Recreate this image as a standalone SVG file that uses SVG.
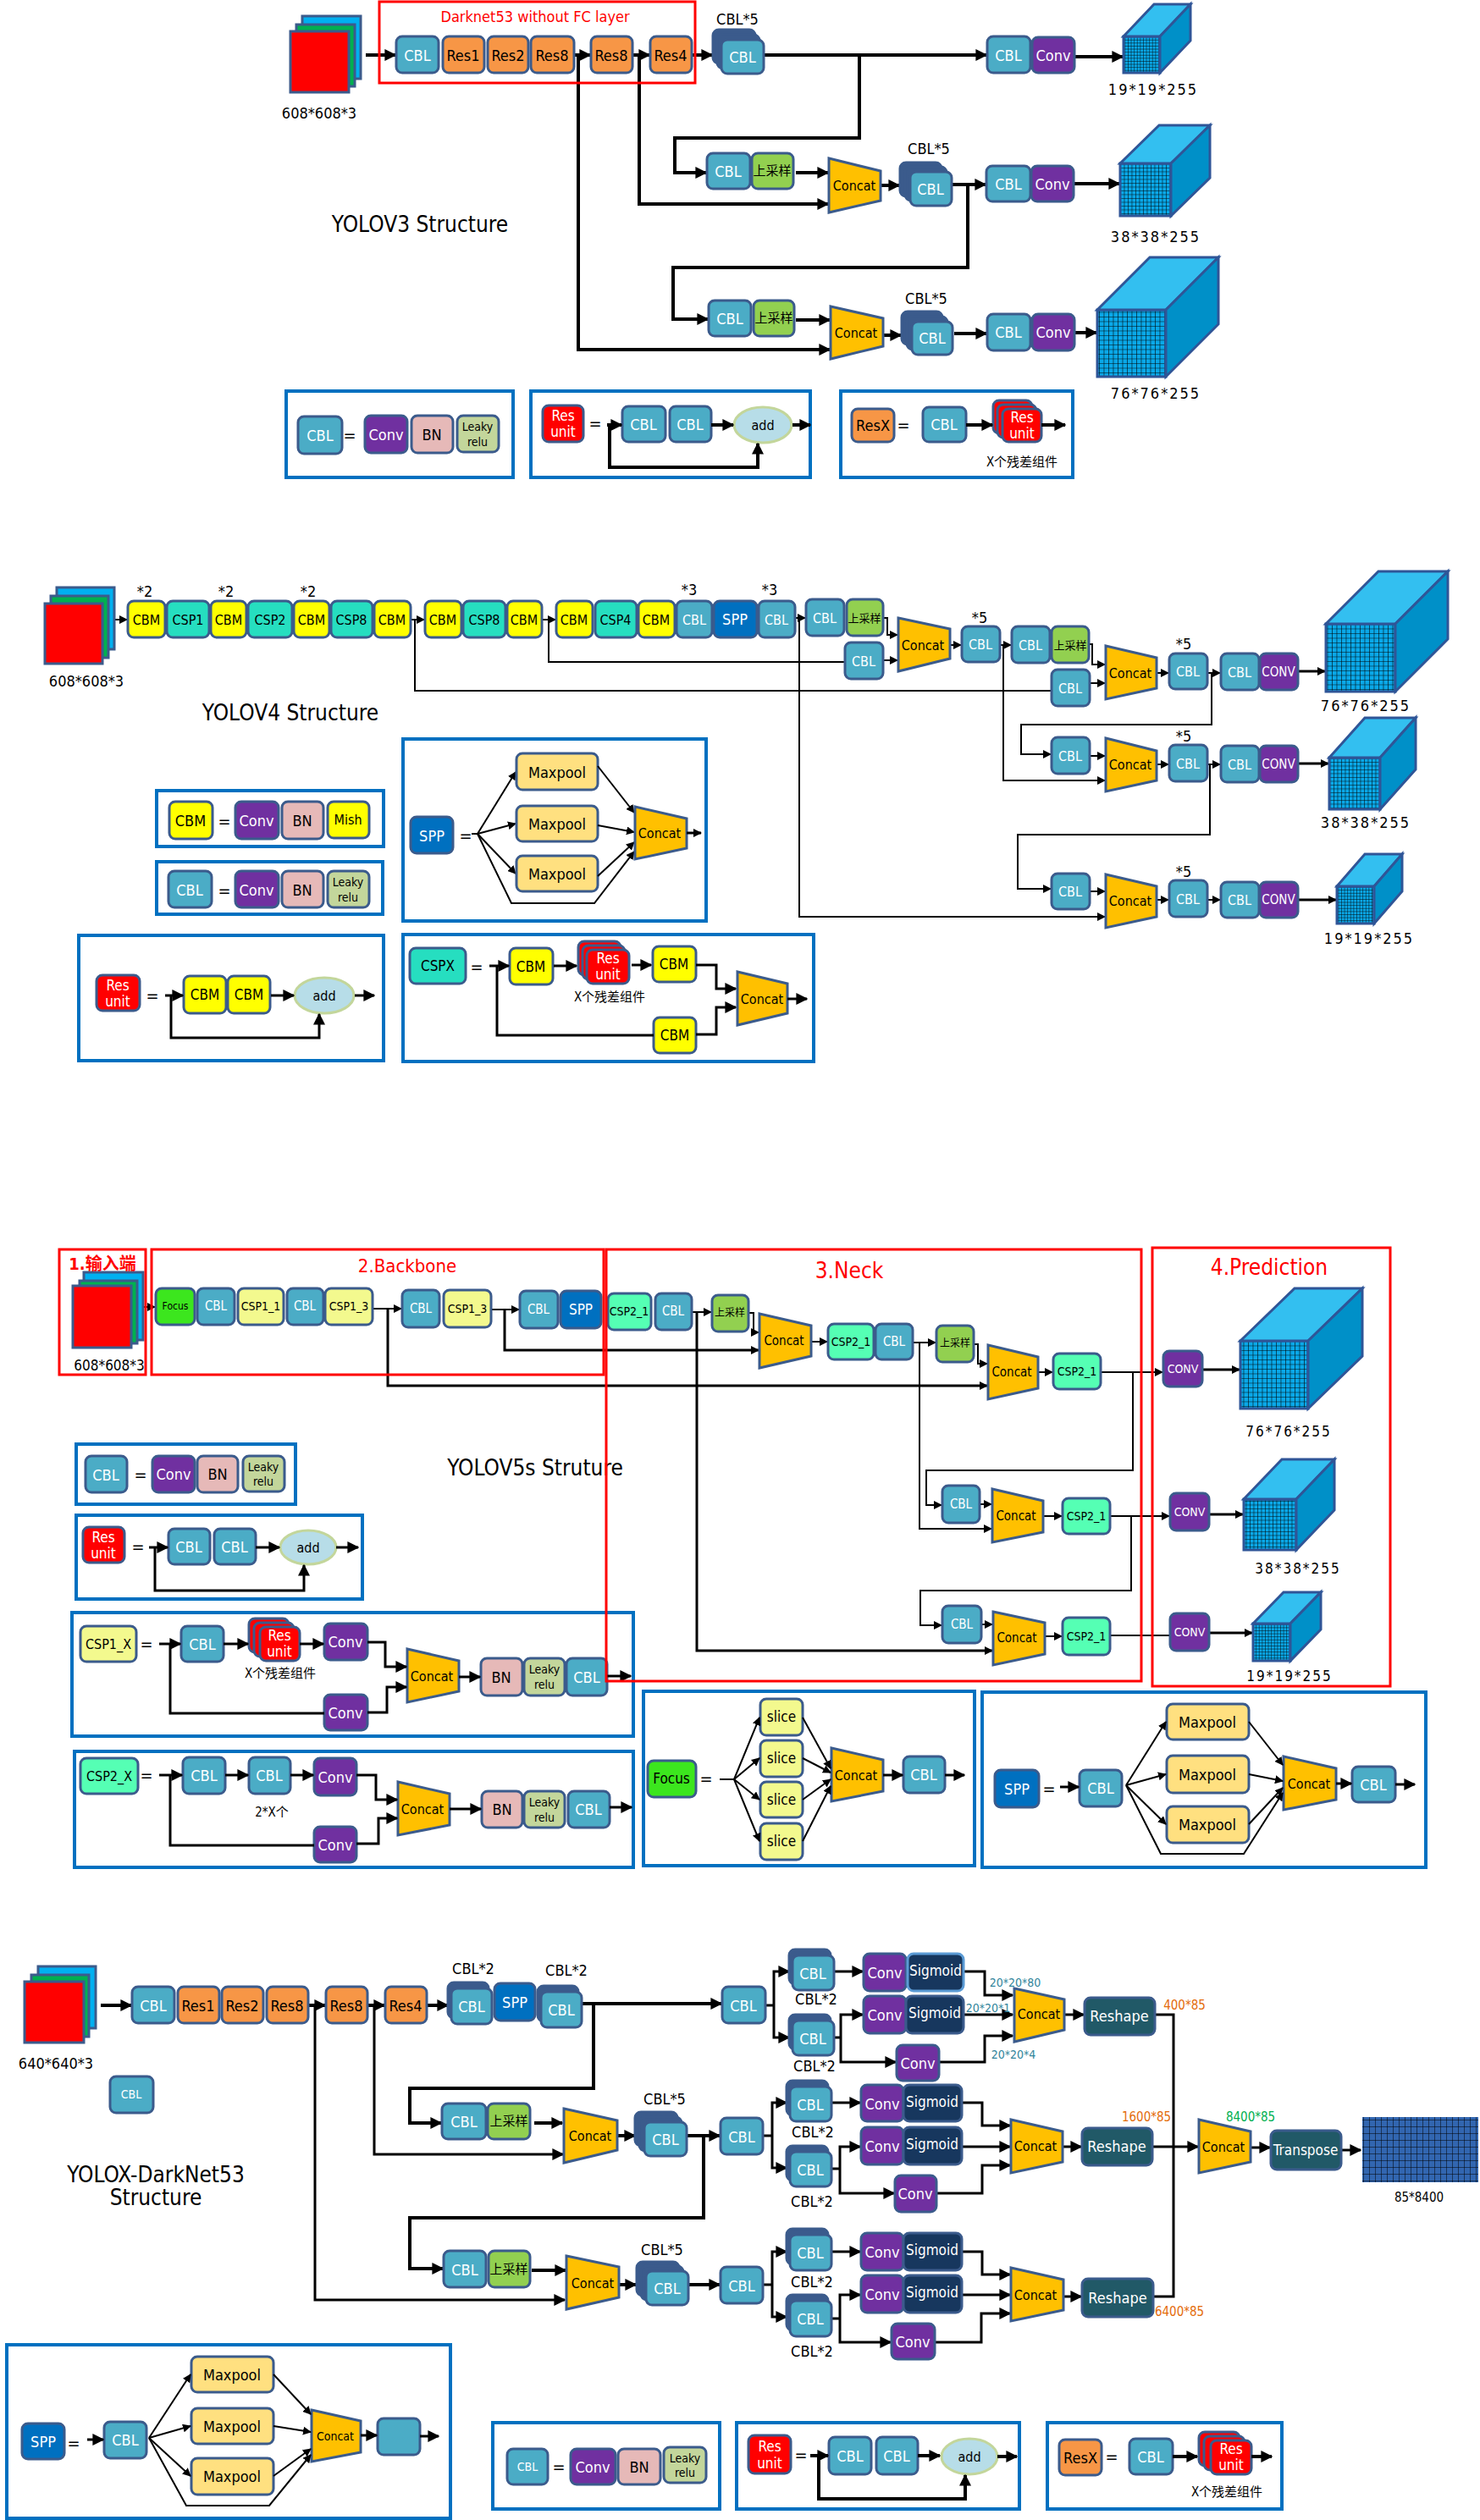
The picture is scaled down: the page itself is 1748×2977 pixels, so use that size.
<svg xmlns="http://www.w3.org/2000/svg" width="1748" height="2977" viewBox="0 0 1748 2977">
<defs>
<style>
text{font-family:"Liberation Sans Narrow","DejaVu Sans Condensed","Liberation Sans","Noto Sans CJK SC",sans-serif;text-anchor:middle;dominant-baseline:central;fill:#000}
.b{stroke:#3B5B8C;stroke-width:3;rx:7px;ry:7px}
.cbl{fill:#4BACC6}.res{fill:#F79646}.conv{fill:#7030A0}.bn{fill:#E6B9B8}.lr{fill:#C3D69B}.cbm{fill:#FFFF00}.csp{fill:#26DEC0}.c2{fill:#55FFB4}.c1{fill:#F3F98E}.spp{fill:#0070C0}.up{fill:#92D050}.mp{fill:#FFE080}.foc{fill:#3CE61E}.ru{fill:#FF0000}.sig{fill:#17375E}.rs{fill:#215967}.stk{fill:#3B5B8C}
.cc{fill:#FFC000;stroke:#3B5B8C;stroke-width:3}
.add{fill:#B7DDE8;stroke:#C3D69B;stroke-width:3}
.sq{stroke:#3B5B8C;stroke-width:3}
.w{fill:#fff}
.L{fill:none;stroke:#000;stroke-width:4}
.M{fill:none;stroke:#000;stroke-width:3}
.S{fill:none;stroke:#000;stroke-width:2}
.A{marker-end:url(#a)}
.a2{marker-end:url(#m)}
.lg{fill:#fff;stroke:#0070C0;stroke-width:4}
.rb{fill:none;stroke:#FF0000;stroke-width:3}
.cube rect,.cube polygon{stroke:#2F5597;stroke-width:3}
.cube text{letter-spacing:2px}
.top{fill:#33BFF0}.side{fill:#0090C8}
.s11{font-size:12px}.s12{font-size:14px}.s13{font-size:15px}.s14{font-size:16px}.s15{font-size:17px}.s16{font-size:18px}.s18{font-size:20px}.s20{font-size:22px}.s22{font-size:26px}
.cj15{font-size:15px}.cj13{font-size:13px}.cj12{font-size:12px}
.red{fill:#FF0000}.org{fill:#E46C0A}.grn{fill:#00B050}.tl{fill:#31849B}
</style>
<marker id="a" viewBox="0 0 10 10" refX="9" refY="5" markerWidth="14" markerHeight="14" markerUnits="userSpaceOnUse" orient="auto"><path d="M0,0L10,5L0,10z"/></marker>
<marker id="m" viewBox="0 0 10 10" refX="9" refY="5" markerWidth="10" markerHeight="10" markerUnits="userSpaceOnUse" orient="auto"><path d="M0,0L10,5L0,10z"/></marker>
<pattern id="g3" width="3.6" height="3.6" patternUnits="userSpaceOnUse"><rect width="3.6" height="3.6" fill="#0AA8E8"/><path d="M0,0H3.6M0,0V3.6" stroke="#000" stroke-width="0.9"/></pattern>
<pattern id="g4" width="4.5" height="4.5" patternUnits="userSpaceOnUse"><rect width="4.5" height="4.5" fill="#0AA8E8"/><path d="M0,0H4.5M0,0V4.5" stroke="#000" stroke-width="1"/></pattern>
<pattern id="g6" width="5.5" height="5.5" patternUnits="userSpaceOnUse"><rect width="5.5" height="5.5" fill="#0AA8E8"/><path d="M0,0H5.5M0,0V5.5" stroke="#000" stroke-width="1.1"/></pattern>
<pattern id="gx" width="7" height="8" patternUnits="userSpaceOnUse"><rect width="7" height="8" fill="#3266B0"/><path d="M0,0H7M0,0V8" stroke="#000" stroke-width="1"/></pattern>
</defs>
<rect width="1748" height="2977" fill="#fff"/>

<!-- ===================== YOLOv3 ===================== -->
<g id="connectors-v3">
<path class="L A" d="M432,65H467"/>
<path class="L A" d="M678,65H697"/>
<path class="L A" d="M747,65H767"/>
<path class="L A" d="M817,65H841"/>
<path class="L A" d="M903,65H1165"/>
<path class="L A" d="M1015,65V163H797V204H834"/>
<path class="L A" d="M755,65V241H978"/>
<path class="L A" d="M940,204H978"/>
<path class="L A" d="M1040,219H1062"/>
<path class="L A" d="M1124,218H1164"/>
<path class="L A" d="M1143,218V316H795V377H836"/>
<path class="L A" d="M683,65V413H980"/>
<path class="L A" d="M940,378H980"/>
<path class="L A" d="M1043,396H1064"/>
<path class="L A" d="M1127,394H1165"/>
<path class="L A" d="M1269,67H1326"/>
<path class="L A" d="M1268,217H1322"/>
<path class="L A" d="M1269,393H1295"/>
</g>
<g id="v3-input">
<rect class="sq" x="357" y="19" width="69" height="74" fill="#00B0F0"/>
<rect class="sq" x="350" y="29" width="69" height="73" fill="#00B050"/>
<rect class="sq" x="343" y="37" width="69" height="72" fill="#FF0000"/>
<text class="s16" x="377" y="133">608*608*3</text>
</g>
<g id="v3-darknet-frame"><rect class="rb" x="448" y="2" width="373" height="96"/><text class="s16 red" x="632" y="19">Darknet53 without FC layer</text></g>
<g id="v3-cbl0"><rect class="b cbl" x="468" y="43" width="50" height="43"/><text class="w s16" x="493" y="65">CBL</text></g>
<g id="v3-res1"><rect class="b res" x="523" y="43" width="49" height="43"/><text class="s16" x="547" y="65">Res1</text></g>
<g id="v3-res2"><rect class="b res" x="576" y="43" width="48" height="43"/><text class="s16" x="600" y="65">Res2</text></g>
<g id="v3-res8a"><rect class="b res" x="627" y="43" width="51" height="43"/><text class="s16" x="652" y="65">Res8</text></g>
<g id="v3-res8b"><rect class="b res" x="698" y="43" width="49" height="43"/><text class="s16" x="722" y="65">Res8</text></g>
<g id="v3-res4"><rect class="b res" x="768" y="43" width="49" height="43"/><text class="s16" x="792" y="65">Res4</text></g>
<g id="v3-cbl5-a"><rect class="b stk" x="842" y="35" width="50" height="40"/><rect class="b stk" x="847" y="41" width="50" height="40"/><rect class="b cbl" x="852" y="47" width="50" height="40"/><text class="w s16" x="877" y="67">CBL</text><text class="s16" x="871" y="22">CBL*5</text></g>
<g id="v3-cbl-h1"><rect class="b cbl" x="1166" y="43" width="51" height="43"/><text class="w s16" x="1191" y="65">CBL</text></g>
<g id="v3-conv-h1"><rect class="b conv" x="1219" y="44" width="50" height="42"/><text class="w s16" x="1244" y="65">Conv</text></g>
<g id="v3-out19" class="cube"><rect x="1327" y="43" width="43" height="43" fill="url(#g3)"/><polygon class="top" points="1327,43 1370,43 1406,5 1363,5"/><polygon class="side" points="1370,43 1406,5 1406,48 1370,86"/><text class="s16" x="1362" y="105">19*19*255</text></g>
<g id="v3-cbl-u1"><rect class="b cbl" x="835" y="181" width="51" height="42"/><text class="w s16" x="860" y="202">CBL</text></g>
<g id="v3-up1"><rect class="b up" x="888" y="181" width="49" height="42"/><text class="cj15" x="912" y="202">上采样</text></g>
<g id="v3-concat1"><polygon class="cc" points="979,187 1040,202 1040,237 979,251"/><text class="s14" x="1009" y="219">Concat</text></g>
<g id="v3-cbl5-b"><rect class="b stk" x="1063" y="192" width="49" height="40"/><rect class="b stk" x="1069" y="197" width="49" height="40"/><rect class="b cbl" x="1075" y="203" width="49" height="40"/><text class="w s16" x="1099" y="223">CBL</text><text class="s16" x="1097" y="175">CBL*5</text></g>
<g id="v3-cbl-h2"><rect class="b cbl" x="1165" y="196" width="52" height="42"/><text class="w s16" x="1191" y="217">CBL</text></g>
<g id="v3-conv-h2"><rect class="b conv" x="1218" y="196" width="50" height="42"/><text class="w s16" x="1243" y="217">Conv</text></g>
<g id="v3-out38" class="cube"><rect x="1323" y="193" width="60" height="62" fill="url(#g4)"/><polygon class="top" points="1323,193 1383,193 1429,148 1369,148"/><polygon class="side" points="1383,193 1429,148 1429,210 1383,255"/><text class="s16" x="1365" y="279">38*38*255</text></g>
<g id="v3-cbl-u2"><rect class="b cbl" x="837" y="355" width="50" height="42"/><text class="w s16" x="862" y="376">CBL</text></g>
<g id="v3-up2"><rect class="b up" x="890" y="355" width="48" height="42"/><text class="cj15" x="914" y="376">上采样</text></g>
<g id="v3-concat2"><polygon class="cc" points="981,362 1043,376 1043,409 981,424"/><text class="s14" x="1011" y="393">Concat</text></g>
<g id="v3-cbl5-c"><rect class="b stk" x="1065" y="368" width="48" height="39"/><rect class="b stk" x="1071" y="374" width="48" height="39"/><rect class="b cbl" x="1077" y="380" width="48" height="39"/><text class="w s16" x="1101" y="399">CBL</text><text class="s16" x="1094" y="352">CBL*5</text></g>
<g id="v3-cbl-h3"><rect class="b cbl" x="1166" y="371" width="51" height="43"/><text class="w s16" x="1191" y="392">CBL</text></g>
<g id="v3-conv-h3"><rect class="b conv" x="1219" y="371" width="50" height="43"/><text class="w s16" x="1244" y="392">Conv</text></g>
<g id="v3-out76" class="cube"><rect x="1296" y="366" width="81" height="79" fill="url(#g6)"/><polygon class="top" points="1296,366 1377,366 1439,304 1358,304"/><polygon class="side" points="1377,366 1439,304 1439,383 1377,445"/><text class="s16" x="1365" y="464">76*76*255</text></g>
<text class="s22" x="496" y="265">YOLOV3 Structure</text>

<g id="v3-legend-cbl"><rect class="lg" x="338" y="462" width="268" height="102"/>
<rect class="b cbl" x="352" y="492" width="52" height="44"/><text class="w s16" x="378" y="514">CBL</text><text class="s18" x="413" y="514">=</text>
<rect class="b conv" x="431" y="491" width="50" height="44"/><text class="w s16" x="456" y="513">Conv</text>
<rect class="b bn" x="486" y="491" width="49" height="44"/><text class="s16" x="510" y="513">BN</text>
<rect class="b lr" x="540" y="491" width="49" height="43"/><text class="s12" x="564" y="504">Leaky</text><text class="s12" x="564" y="522">relu</text></g>
<g id="v3-legend-res"><rect class="lg" x="627" y="462" width="330" height="102"/>
<rect class="b ru" x="641" y="479" width="48" height="43"/><text class="w s15" x="665" y="491">Res</text><text class="w s15" x="665" y="510">unit</text><text class="s18" x="703" y="500">=</text>
<rect class="b cbl" x="735" y="480" width="51" height="42"/><text class="w s16" x="760" y="501">CBL</text>
<rect class="b cbl" x="791" y="480" width="49" height="42"/><text class="w s16" x="815" y="501">CBL</text>
<ellipse class="add" cx="901" cy="502" rx="34" ry="21"/><text class="s14" x="901" y="502">add</text>
<path class="L A" d="M717,502H734"/><path class="L A" d="M840,502H866"/><path class="L A" d="M936,502H957"/><path class="L A" d="M720,502V552H895V524"/></g>
<g id="v3-legend-resx"><rect class="lg" x="993" y="462" width="274" height="102"/>
<rect class="b res" x="1006" y="483" width="50" height="39"/><text class="s16" x="1031" y="502">ResX</text><text class="s18" x="1067" y="502">=</text>
<rect class="b cbl" x="1090" y="481" width="51" height="41"/><text class="w s16" x="1115" y="501">CBL</text>
<rect class="b ru" x="1173" y="473" width="46" height="39"/><rect class="b ru" x="1178" y="478" width="46" height="39"/><rect class="b ru" x="1184" y="483" width="46" height="39"/><text class="w s15" x="1207" y="493">Res</text><text class="w s15" x="1207" y="512">unit</text>
<path class="L A" d="M1141,502H1172"/><path class="L A" d="M1230,502H1258"/>
<text class="s13" x="1207" y="546">X个残差组件</text></g>

<!-- ===================== YOLOv4 ===================== -->
<g id="connectors-v4">
<path class="S a2" d="M136,732H150"/>
<path class="S a2" d="M486,732H501"/>
<path class="S a2" d="M641,732H656"/>
<path class="S a2" d="M939,730H951"/>
<path class="S" d="M490,732V816H1242"/>
<path class="S" d="M648,732V782H998"/>
<path class="S a2" d="M944,730V1083H1305"/>
<path class="S a2" d="M1043,730H1048V750H1060"/>
<path class="S a2" d="M1043,780H1060"/>
<path class="S a2" d="M1122,762H1135"/>
<path class="S a2" d="M1181,762H1194"/>
<path class="S a2" d="M1185,762V922H1305"/>
<path class="S a2" d="M1286,761H1290V785H1305"/>
<path class="S a2" d="M1287,807H1305"/>
<path class="S a2" d="M1366,795H1380"/>
<path class="S a2" d="M1426,795H1441"/>
<path class="S a2" d="M1431,795V856H1206V891H1241"/>
<path class="M a2" d="M1533,793H1565"/>
<path class="S a2" d="M1287,893H1305"/>
<path class="S a2" d="M1366,903H1380"/>
<path class="S a2" d="M1426,903H1441"/>
<path class="S a2" d="M1429,903V986H1202V1050H1241"/>
<path class="M a2" d="M1533,902H1569"/>
<path class="S a2" d="M1287,1053H1305"/>
<path class="S a2" d="M1366,1063H1380"/>
<path class="S a2" d="M1426,1063H1441"/>
<path class="M a2" d="M1533,1063H1578"/>
</g>
<g id="v4-input">
<rect class="sq" x="67" y="694" width="68" height="73" fill="#00B0F0"/>
<rect class="sq" x="60" y="704" width="68" height="73" fill="#00B050"/>
<rect class="sq" x="53" y="713" width="68" height="71" fill="#FF0000"/>
<text class="s16" x="102" y="804">608*608*3</text>
</g>
<g id="v4-cbm1"><rect class="b cbm" x="151" y="710" width="44" height="43"/><text class="s14" x="173" y="732">CBM</text><text class="s16" x="171" y="698">*2</text></g>
<g id="v4-csp1"><rect class="b csp" x="197" y="710" width="50" height="43"/><text class="s14" x="222" y="732">CSP1</text></g>
<g id="v4-cbm2"><rect class="b cbm" x="249" y="710" width="42" height="43"/><text class="s14" x="270" y="732">CBM</text><text class="s16" x="267" y="698">*2</text></g>
<g id="v4-csp2"><rect class="b csp" x="293" y="710" width="52" height="43"/><text class="s14" x="319" y="732">CSP2</text></g>
<g id="v4-cbm3"><rect class="b cbm" x="347" y="710" width="42" height="43"/><text class="s14" x="368" y="732">CBM</text><text class="s16" x="364" y="698">*2</text></g>
<g id="v4-csp8a"><rect class="b csp" x="391" y="710" width="49" height="43"/><text class="s14" x="415" y="732">CSP8</text></g>
<g id="v4-cbm4"><rect class="b cbm" x="442" y="710" width="43" height="43"/><text class="s14" x="463" y="732">CBM</text></g>
<g id="v4-cbm5"><rect class="b cbm" x="502" y="710" width="43" height="43"/><text class="s14" x="523" y="732">CBM</text></g>
<g id="v4-csp8b"><rect class="b csp" x="547" y="710" width="50" height="43"/><text class="s14" x="572" y="732">CSP8</text></g>
<g id="v4-cbm6"><rect class="b cbm" x="599" y="710" width="41" height="43"/><text class="s14" x="619" y="732">CBM</text></g>
<g id="v4-cbm7"><rect class="b cbm" x="657" y="710" width="43" height="43"/><text class="s14" x="678" y="732">CBM</text></g>
<g id="v4-csp4"><rect class="b csp" x="703" y="710" width="49" height="43"/><text class="s14" x="727" y="732">CSP4</text></g>
<g id="v4-cbm8"><rect class="b cbm" x="754" y="710" width="43" height="43"/><text class="s14" x="775" y="732">CBM</text></g>
<g id="v4-cbl1"><rect class="b cbl" x="799" y="710" width="42" height="43"/><text class="w s14" x="820" y="732">CBL</text><text class="s16" x="814" y="696">*3</text></g>
<g id="v4-spp"><rect class="b spp" x="843" y="710" width="51" height="43"/><text class="w s16" x="868" y="731">SPP</text></g>
<g id="v4-cbl2"><rect class="b cbl" x="896" y="710" width="43" height="43"/><text class="w s14" x="917" y="732">CBL</text><text class="s16" x="909" y="696">*3</text></g>
<g id="v4-cbl3"><rect class="b cbl" x="952" y="708" width="45" height="43"/><text class="w s14" x="974" y="730">CBL</text></g>
<g id="v4-up1"><rect class="b up" x="1000" y="708" width="43" height="43"/><text class="cj13" x="1021" y="730">上采样</text></g>
<g id="v4-cbl4"><rect class="b cbl" x="998" y="759" width="45" height="43"/><text class="w s14" x="1020" y="781">CBL</text></g>
<g id="v4-concat1"><polygon class="cc" points="1061,730 1122,743 1122,778 1061,793"/><text class="s14" x="1090" y="762">Concat</text></g>
<g id="v4-cbl5-1"><rect class="b cbl" x="1136" y="740" width="45" height="42"/><text class="w s14" x="1158" y="761">CBL</text><text class="s16" x="1157" y="729">*5</text></g>
<g id="v4-cbl5"><rect class="b cbl" x="1195" y="740" width="45" height="43"/><text class="w s14" x="1217" y="762">CBL</text></g>
<g id="v4-up2"><rect class="b up" x="1242" y="740" width="44" height="43"/><text class="cj13" x="1264" y="762">上采样</text></g>
<g id="v4-cbl6"><rect class="b cbl" x="1242" y="791" width="45" height="43"/><text class="w s14" x="1264" y="813">CBL</text></g>
<g id="v4-concat2"><polygon class="cc" points="1306,763 1366,777 1366,813 1306,826"/><text class="s14" x="1335" y="795">Concat</text></g>
<g id="v4-cbl5-2"><rect class="b cbl" x="1381" y="772" width="45" height="42"/><text class="w s14" x="1403" y="793">CBL</text><text class="s16" x="1398" y="760">*5</text></g>
<g id="v4-head76"><rect class="b cbl" x="1442" y="772" width="45" height="43"/><text class="w s14" x="1464" y="794">CBL</text><rect class="b conv" x="1488" y="772" width="45" height="43"/><text class="w s13" x="1510" y="794">CONV</text></g>
<g id="v4-out76" class="cube"><rect x="1566" y="737" width="82" height="80" fill="url(#g6)"/><polygon class="top" points="1566,737 1648,737 1710,675 1628,675"/><polygon class="side" points="1648,737 1710,675 1710,755 1648,817"/><text class="s16" x="1613" y="833">76*76*255</text></g>
<g id="v4-cbl7"><rect class="b cbl" x="1242" y="871" width="45" height="43"/><text class="w s14" x="1264" y="893">CBL</text></g>
<g id="v4-concat3"><polygon class="cc" points="1306,872 1366,887 1366,922 1306,935"/><text class="s14" x="1335" y="903">Concat</text></g>
<g id="v4-cbl5-3"><rect class="b cbl" x="1381" y="880" width="45" height="43"/><text class="w s14" x="1403" y="902">CBL</text><text class="s16" x="1398" y="869">*5</text></g>
<g id="v4-head38"><rect class="b cbl" x="1442" y="881" width="45" height="43"/><text class="w s14" x="1464" y="903">CBL</text><rect class="b conv" x="1488" y="881" width="45" height="43"/><text class="w s13" x="1510" y="903">CONV</text></g>
<g id="v4-out38" class="cube"><rect x="1570" y="895" width="60" height="61" fill="url(#g4)"/><polygon class="top" points="1570,895 1630,895 1672,848 1612,848"/><polygon class="side" points="1630,895 1672,848 1672,909 1630,956"/><text class="s16" x="1613" y="971">38*38*255</text></g>
<g id="v4-cbl8"><rect class="b cbl" x="1242" y="1032" width="45" height="42"/><text class="w s14" x="1264" y="1053">CBL</text></g>
<g id="v4-concat4"><polygon class="cc" points="1306,1033 1366,1047 1366,1083 1306,1096"/><text class="s14" x="1335" y="1064">Concat</text></g>
<g id="v4-cbl5-4"><rect class="b cbl" x="1381" y="1040" width="45" height="43"/><text class="w s14" x="1403" y="1062">CBL</text><text class="s16" x="1398" y="1029">*5</text></g>
<g id="v4-head19"><rect class="b cbl" x="1442" y="1042" width="45" height="42"/><text class="w s14" x="1464" y="1063">CBL</text><rect class="b conv" x="1488" y="1042" width="45" height="42"/><text class="w s13" x="1510" y="1063">CONV</text></g>
<g id="v4-out19" class="cube"><rect x="1579" y="1047" width="44" height="44" fill="url(#g3)"/><polygon class="top" points="1579,1047 1623,1047 1656,1009 1612,1009"/><polygon class="side" points="1623,1047 1656,1009 1656,1053 1623,1091"/><text class="s16" x="1617" y="1108">19*19*255</text></g>
<text class="s22" x="343" y="842">YOLOV4 Structure</text>

<g id="v4-legend-cbm"><rect class="lg" x="185" y="934" width="268" height="66"/>
<rect class="b cbm" x="200" y="947" width="51" height="44"/><text class="s16" x="225" y="969">CBM</text><text class="s18" x="265" y="970">=</text>
<rect class="b conv" x="278" y="947" width="51" height="44"/><text class="w s16" x="303" y="969">Conv</text>
<rect class="b bn" x="333" y="947" width="49" height="44"/><text class="s16" x="357" y="969">BN</text>
<rect class="b cbm" x="387" y="947" width="49" height="43"/><text class="s14" x="411" y="968">Mish</text></g>
<g id="v4-legend-cbl"><rect class="lg" x="185" y="1018" width="267" height="62"/>
<rect class="b cbl" x="199" y="1029" width="51" height="43"/><text class="w s16" x="224" y="1051">CBL</text><text class="s18" x="265" y="1052">=</text>
<rect class="b conv" x="278" y="1029" width="51" height="43"/><text class="w s16" x="303" y="1051">Conv</text>
<rect class="b bn" x="333" y="1029" width="49" height="43"/><text class="s16" x="357" y="1051">BN</text>
<rect class="b lr" x="387" y="1029" width="49" height="43"/><text class="s12" x="411" y="1042">Leaky</text><text class="s12" x="411" y="1060">relu</text></g>
<g id="v4-legend-spp"><rect class="lg" x="476" y="873" width="358" height="215"/>
<rect class="b spp" x="485" y="965" width="50" height="43"/><text class="w s16" x="510" y="987">SPP</text><text class="s18" x="550" y="987">=</text>
<path class="S" d="M557,985H564"/>
<path class="S a2" d="M564,985L609,912"/><path class="S a2" d="M564,985L609,973"/><path class="S a2" d="M564,985L609,1032"/><path class="S a2" d="M564,985L604,1067H702L749,1006"/>
<rect class="b mp" x="610" y="890" width="96" height="43"/><text class="s16" x="658" y="912">Maxpool</text>
<rect class="b mp" x="610" y="952" width="96" height="42"/><text class="s16" x="658" y="973">Maxpool</text>
<rect class="b mp" x="610" y="1011" width="96" height="42"/><text class="s16" x="658" y="1032">Maxpool</text>
<path class="S a2" d="M706,905L749,960"/><path class="S a2" d="M706,975L749,983"/><path class="S a2" d="M706,1035L749,995"/>
<polygon class="cc" points="750,953 811,967 811,1002 750,1015"/><text class="s14" x="779" y="984">Concat</text>
<path class="M a2" d="M811,984H828"/></g>
<g id="v4-legend-res"><rect class="lg" x="93" y="1105" width="360" height="148"/>
<rect class="b ru" x="114" y="1152" width="51" height="42"/><text class="w s15" x="139" y="1164">Res</text><text class="w s15" x="139" y="1183">unit</text><text class="s18" x="180" y="1176">=</text>
<rect class="b cbm" x="217" y="1153" width="50" height="44"/><text class="s15" x="242" y="1175">CBM</text>
<rect class="b cbm" x="269" y="1153" width="50" height="44"/><text class="s15" x="294" y="1175">CBM</text>
<ellipse class="add" cx="383" cy="1176" rx="35" ry="21"/><text class="s14" x="383" y="1176">add</text>
<path class="M A" d="M195,1176H216"/><path class="M A" d="M320,1176H347"/><path class="M A" d="M419,1176H442"/><path class="M A" d="M202,1176V1226H377V1198"/></g>
<g id="v4-legend-cspx"><rect class="lg" x="476" y="1104" width="485" height="150"/>
<rect class="b csp" x="484" y="1120" width="66" height="42"/><text class="s15" x="517" y="1141">CSPX</text><text class="s18" x="563" y="1142">=</text>
<rect class="b cbm" x="602" y="1120" width="51" height="43"/><text class="s15" x="627" y="1142">CBM</text>
<rect class="b ru" x="683" y="1112" width="50" height="40"/><rect class="b ru" x="688" y="1117" width="50" height="40"/><rect class="b ru" x="693" y="1122" width="50" height="40"/><text class="w s15" x="718" y="1132">Res</text><text class="w s15" x="718" y="1151">unit</text>
<text class="s13" x="720" y="1178">X个残差组件</text>
<rect class="b cbm" x="771" y="1118" width="51" height="42"/><text class="s15" x="796" y="1139">CBM</text>
<rect class="b cbm" x="772" y="1202" width="50" height="42"/><text class="s15" x="797" y="1223">CBM</text>
<polygon class="cc" points="871,1148 930,1162 930,1197 871,1211"/><text class="s14" x="900" y="1180">Concat</text>
<path class="M A" d="M578,1141H601"/><path class="M A" d="M654,1141H681"/><path class="M A" d="M746,1140H769"/>
<path class="M A" d="M822,1140H846V1168H869"/><path class="M" d="M587,1141V1223H772"/><path class="M A" d="M822,1222H846V1190H869"/><path class="M A" d="M930,1180H953"/></g>

<!-- ===================== YOLOv5s ===================== -->
<g id="v5-legend-cbl"><rect class="lg" x="90" y="1706" width="259" height="71"/>
<rect class="b cbl" x="101" y="1720" width="49" height="43"/><text class="w s16" x="125" y="1742">CBL</text><text class="s18" x="166" y="1742">=</text>
<rect class="b conv" x="180" y="1720" width="50" height="43"/><text class="w s16" x="205" y="1741">Conv</text>
<rect class="b bn" x="233" y="1720" width="48" height="43"/><text class="s16" x="257" y="1741">BN</text>
<rect class="b lr" x="287" y="1720" width="49" height="42"/><text class="s12" x="311" y="1733">Leaky</text><text class="s12" x="311" y="1750">relu</text></g>
<g id="v5-legend-res"><rect class="lg" x="90" y="1790" width="338" height="99"/>
<rect class="b ru" x="98" y="1804" width="49" height="42"/><text class="w s15" x="122" y="1816">Res</text><text class="w s15" x="122" y="1835">unit</text><text class="s18" x="163" y="1827">=</text>
<rect class="b cbl" x="199" y="1806" width="49" height="42"/><text class="w s16" x="223" y="1827">CBL</text>
<rect class="b cbl" x="253" y="1806" width="49" height="42"/><text class="w s16" x="277" y="1827">CBL</text>
<ellipse class="add" cx="364" cy="1828" rx="33" ry="20"/><text class="s14" x="364" y="1828">add</text>
<path class="M A" d="M176,1828H198"/><path class="M A" d="M302,1828H330"/><path class="M A" d="M397,1828H423"/><path class="M A" d="M183,1828V1879H359V1849"/></g>
<g id="v5-legend-csp1"><rect class="lg" x="85" y="1905" width="663" height="146"/>
<rect class="b c1" x="95" y="1921" width="66" height="42"/><text class="s14" x="128" y="1942">CSP1_X</text><text class="s18" x="173" y="1942">=</text>
<rect class="b cbl" x="214" y="1921" width="50" height="42"/><text class="w s16" x="239" y="1942">CBL</text>
<rect class="b ru" x="294" y="1912" width="47" height="40"/><rect class="b ru" x="300" y="1917" width="47" height="40"/><rect class="b ru" x="307" y="1922" width="47" height="40"/><text class="w s15" x="330" y="1932">Res</text><text class="w s15" x="330" y="1951">unit</text>
<text class="s13" x="331" y="1977">X个残差组件</text>
<rect class="b conv" x="383" y="1918" width="51" height="43"/><text class="w s16" x="408" y="1939">Conv</text>
<rect class="b conv" x="383" y="2002" width="51" height="42"/><text class="w s16" x="408" y="2023">Conv</text>
<polygon class="cc" points="481,1948 542,1962 542,1998 481,2011"/><text class="s14" x="510" y="1980">Concat</text>
<rect class="b bn" x="568" y="1959" width="49" height="44"/><text class="s16" x="592" y="1981">BN</text>
<rect class="b lr" x="619" y="1959" width="48" height="44"/><text class="s12" x="643" y="1972">Leaky</text><text class="s12" x="643" y="1990">relu</text>
<rect class="b cbl" x="669" y="1959" width="48" height="44"/><text class="w s16" x="693" y="1981">CBL</text>
<path class="M A" d="M188,1942H213"/><path class="M A" d="M264,1942H293"/><path class="M A" d="M354,1942H382"/><path class="M A" d="M434,1940H455V1969H480"/><path class="M" d="M201,1942V2024H383"/><path class="M A" d="M434,2023H457V1993H480"/><path class="M A" d="M542,1981H567"/><path class="M A" d="M717,1980H745"/></g>
<g id="v5-legend-csp2"><rect class="lg" x="88" y="2069" width="660" height="137"/>
<rect class="b c2" x="95" y="2077" width="68" height="42"/><text class="s14" x="129" y="2098">CSP2_X</text><text class="s18" x="173" y="2097">=</text>
<rect class="b cbl" x="216" y="2076" width="50" height="43"/><text class="w s16" x="241" y="2097">CBL</text>
<rect class="b cbl" x="294" y="2076" width="49" height="43"/><text class="w s16" x="318" y="2097">CBL</text>
<rect class="b conv" x="371" y="2077" width="50" height="44"/><text class="w s16" x="396" y="2099">Conv</text>
<text class="s13" x="321" y="2141">2*X个</text>
<rect class="b conv" x="371" y="2158" width="50" height="42"/><text class="w s16" x="396" y="2179">Conv</text>
<polygon class="cc" points="470,2105 531,2119 531,2156 470,2168"/><text class="s14" x="499" y="2137">Concat</text>
<rect class="b bn" x="569" y="2116" width="48" height="43"/><text class="s16" x="593" y="2137">BN</text>
<rect class="b lr" x="619" y="2116" width="48" height="43"/><text class="s12" x="643" y="2129">Leaky</text><text class="s12" x="643" y="2147">relu</text>
<rect class="b cbl" x="671" y="2116" width="49" height="43"/><text class="w s16" x="695" y="2137">CBL</text>
<path class="M A" d="M188,2097H215"/><path class="M A" d="M266,2097H293"/><path class="M A" d="M343,2097H370"/><path class="M A" d="M421,2097H444V2126H469"/><path class="M" d="M201,2097V2180H371"/><path class="M A" d="M421,2178H447V2148H469"/><path class="M A" d="M531,2137H568"/><path class="M A" d="M720,2135H746"/></g>
<g id="v5-legend-focus"><rect class="lg" x="760" y="1998" width="391" height="206"/>
<rect class="b foc" x="765" y="2080" width="57" height="43"/><text class="s15" x="793" y="2101">Focus</text><text class="s18" x="834" y="2101">=</text>
<rect class="b c1" x="898" y="2007" width="50" height="43"/><text class="s15" x="923" y="2028">slice</text>
<rect class="b c1" x="898" y="2056" width="50" height="43"/><text class="s15" x="923" y="2077">slice</text>
<rect class="b c1" x="898" y="2105" width="50" height="42"/><text class="s15" x="923" y="2126">slice</text>
<rect class="b c1" x="898" y="2154" width="50" height="43"/><text class="s15" x="923" y="2175">slice</text>
<polygon class="cc" points="982,2065 1043,2079 1043,2116 982,2128"/><text class="s14" x="1011" y="2097">Concat</text>
<rect class="b cbl" x="1067" y="2075" width="49" height="43"/><text class="w s16" x="1091" y="2096">CBL</text>
<path class="S" d="M850,2102H867"/><path class="S a2" d="M867,2102L897,2029"/><path class="S a2" d="M867,2102L897,2077"/><path class="S a2" d="M867,2102L897,2126"/><path class="S a2" d="M867,2102L897,2175"/>
<path class="S a2" d="M948,2029L981,2089"/><path class="S a2" d="M948,2077L981,2094"/><path class="S a2" d="M948,2126L981,2102"/><path class="S a2" d="M948,2175L981,2110"/>
<path class="M A" d="M1043,2097H1066"/><path class="M A" d="M1116,2097H1139"/></g>
<g id="v5-legend-spp"><rect class="lg" x="1160" y="1999" width="524" height="207"/>
<rect class="b spp" x="1175" y="2091" width="52" height="44"/><text class="w s16" x="1201" y="2113">SPP</text><text class="s18" x="1239" y="2113">=</text>
<rect class="b cbl" x="1275" y="2091" width="50" height="43"/><text class="w s16" x="1300" y="2112">CBL</text>
<rect class="b mp" x="1378" y="2013" width="97" height="42"/><text class="s16" x="1426" y="2034">Maxpool</text>
<rect class="b mp" x="1378" y="2074" width="97" height="44"/><text class="s16" x="1426" y="2096">Maxpool</text>
<rect class="b mp" x="1378" y="2134" width="97" height="43"/><text class="s16" x="1426" y="2155">Maxpool</text>
<polygon class="cc" points="1516,2075 1578,2089 1578,2126 1516,2138"/><text class="s14" x="1546" y="2107">Concat</text>
<rect class="b cbl" x="1597" y="2087" width="51" height="42"/><text class="w s16" x="1622" y="2108">CBL</text>
<path class="M A" d="M1252,2111H1274"/>
<path class="S a2" d="M1330,2109L1377,2034"/><path class="S a2" d="M1330,2109L1377,2096"/><path class="S a2" d="M1330,2109L1377,2155"/><path class="S a2" d="M1330,2109L1371,2190H1469L1515,2118"/>
<path class="S a2" d="M1475,2034L1515,2085"/><path class="S a2" d="M1475,2096L1515,2104"/><path class="S a2" d="M1475,2155L1515,2112"/>
<path class="M A" d="M1578,2107H1596"/><path class="M A" d="M1648,2108H1671"/></g>

<g id="connectors-v5">
<path class="S a2" d="M169,1544H183"/>
<path class="S a2" d="M441,1546H474"/>
<path class="S a2" d="M581,1547H613"/>
<path class="S a2" d="M818,1550H840"/>
<path class="S a2" d="M884,1551H890V1574H896"/>
<path class="M a2" d="M596,1547V1595H896"/>
<path class="S a2" d="M958,1585H977"/>
<path class="S a2" d="M1079,1586H1105"/>
<path class="S a2" d="M1150,1588H1155V1611H1166"/>
<path class="M a2" d="M458,1546V1637H1166"/>
<path class="S a2" d="M1226,1621H1243"/>
<path class="S a2" d="M1300,1621H1373"/>
<path class="M a2" d="M1420,1618H1464"/>
<path class="S a2" d="M1338,1621V1737H1094V1778H1112"/>
<path class="S a2" d="M1086,1586V1806H1171"/>
<path class="M a2" d="M823,1550V1950H1172"/>
<path class="S a2" d="M1157,1777H1171"/>
<path class="S a2" d="M1232,1791H1254"/>
<path class="S a2" d="M1311,1791H1381"/>
<path class="M a2" d="M1428,1789H1468"/>
<path class="S a2" d="M1336,1791V1879H1087V1920H1112"/>
<path class="S a2" d="M1159,1919H1172"/>
<path class="S a2" d="M1234,1933H1254"/>
<path class="S" d="M1311,1932H1382"/>
<path class="M a2" d="M1428,1929H1479"/>
</g>
<g id="v5-input">
<rect class="sq" x="99" y="1503" width="70" height="80" fill="#00B0F0"/>
<rect class="sq" x="94" y="1513" width="68" height="74" fill="#00B050"/>
<rect class="sq" x="86" y="1519" width="69" height="73" fill="#FF0000"/>
<text class="s15" x="129" y="1613">608*608*3</text>
</g>
<g id="v5-focus"><rect class="b foc" x="184" y="1522" width="46" height="43"/><text class="s11" x="207" y="1543">Focus</text></g>
<g id="v5-cbl1"><rect class="b cbl" x="233" y="1522" width="44" height="43"/><text class="w s13" x="255" y="1543">CBL</text></g>
<g id="v5-csp1-1"><rect class="b c1" x="281" y="1522" width="54" height="43"/><text class="s12" x="308" y="1543">CSP1_1</text></g>
<g id="v5-cbl2"><rect class="b cbl" x="339" y="1522" width="43" height="43"/><text class="w s13" x="360" y="1543">CBL</text></g>
<g id="v5-csp1-3a"><rect class="b c1" x="384" y="1522" width="56" height="43"/><text class="s12" x="412" y="1543">CSP1_3</text></g>
<g id="v5-cbl3"><rect class="b cbl" x="475" y="1524" width="44" height="44"/><text class="w s13" x="497" y="1546">CBL</text></g>
<g id="v5-csp1-3b"><rect class="b c1" x="524" y="1524" width="56" height="44"/><text class="s12" x="552" y="1546">CSP1_3</text></g>
<g id="v5-cbl4"><rect class="b cbl" x="614" y="1525" width="45" height="44"/><text class="w s13" x="636" y="1547">CBL</text></g>
<g id="v5-spp"><rect class="b spp" x="662" y="1525" width="48" height="44"/><text class="w s15" x="686" y="1547">SPP</text></g>
<g id="v5-csp2-1a"><rect class="b c2" x="718" y="1528" width="51" height="43"/><text class="s12" x="743" y="1549">CSP2_1</text></g>
<g id="v5-cbl5"><rect class="b cbl" x="774" y="1528" width="43" height="43"/><text class="w s13" x="795" y="1549">CBL</text></g>
<g id="v5-up1"><rect class="b up" x="841" y="1530" width="43" height="43"/><text class="cj12" x="862" y="1551">上采样</text></g>
<g id="v5-concat1"><polygon class="cc" points="897,1552 958,1566 958,1602 897,1616"/><text class="s13" x="926" y="1584">Concat</text></g>
<g id="v5-csp2-1b"><rect class="b c2" x="978" y="1564" width="54" height="42"/><text class="s12" x="1005" y="1585">CSP2_1</text></g>
<g id="v5-cbl6"><rect class="b cbl" x="1034" y="1564" width="44" height="42"/><text class="w s13" x="1056" y="1585">CBL</text></g>
<g id="v5-up2"><rect class="b up" x="1106" y="1566" width="44" height="43"/><text class="cj12" x="1128" y="1587">上采样</text></g>
<g id="v5-concat2"><polygon class="cc" points="1167,1589 1226,1603 1226,1640 1167,1653"/><text class="s13" x="1195" y="1621">Concat</text></g>
<g id="v5-csp2-1c"><rect class="b c2" x="1244" y="1599" width="56" height="42"/><text class="s12" x="1272" y="1620">CSP2_1</text></g>
<g id="v5-conv76"><rect class="b conv" x="1374" y="1596" width="46" height="42"/><text class="w s12" x="1397" y="1617">CONV</text></g>
<g id="v5-out76" class="cube"><rect x="1465" y="1584" width="80" height="80" fill="url(#g6)"/><polygon class="top" points="1465,1584 1545,1584 1609,1522 1529,1522"/><polygon class="side" points="1545,1584 1609,1522 1609,1602 1545,1664"/><text class="s15" x="1522" y="1691">76*76*255</text></g>
<g id="v5-cbl7"><rect class="b cbl" x="1113" y="1755" width="44" height="44"/><text class="w s13" x="1135" y="1777">CBL</text></g>
<g id="v5-concat3"><polygon class="cc" points="1172,1759 1232,1773 1232,1810 1172,1822"/><text class="s13" x="1200" y="1791">Concat</text></g>
<g id="v5-csp2-1d"><rect class="b c2" x="1255" y="1770" width="56" height="42"/><text class="s12" x="1283" y="1791">CSP2_1</text></g>
<g id="v5-conv38"><rect class="b conv" x="1382" y="1764" width="46" height="44"/><text class="w s12" x="1405" y="1786">CONV</text></g>
<g id="v5-out38" class="cube"><rect x="1469" y="1771" width="62" height="60" fill="url(#g4)"/><polygon class="top" points="1469,1771 1531,1771 1576,1724 1514,1724"/><polygon class="side" points="1531,1771 1576,1724 1576,1784 1531,1831"/><text class="s15" x="1533" y="1853">38*38*255</text></g>
<g id="v5-cbl8"><rect class="b cbl" x="1113" y="1897" width="46" height="44"/><text class="w s13" x="1136" y="1919">CBL</text></g>
<g id="v5-concat4"><polygon class="cc" points="1173,1904 1234,1917 1234,1954 1173,1967"/><text class="s13" x="1201" y="1935">Concat</text></g>
<g id="v5-csp2-1e"><rect class="b c2" x="1255" y="1911" width="56" height="44"/><text class="s12" x="1283" y="1933">CSP2_1</text></g>
<g id="v5-conv19"><rect class="b conv" x="1382" y="1906" width="46" height="44"/><text class="w s12" x="1405" y="1928">CONV</text></g>
<g id="v5-out19" class="cube"><rect x="1480" y="1918" width="44" height="44" fill="url(#g3)"/><polygon class="top" points="1480,1918 1524,1918 1560,1881 1516,1881"/><polygon class="side" points="1524,1918 1560,1881 1560,1925 1524,1962"/><text class="s15" x="1523" y="1980">19*19*255</text></g>
<text class="s22" x="632" y="1734">YOLOV5s Struture</text>
<g id="v5-frames">
<rect class="rb" x="70" y="1476" width="102" height="148"/><text class="s18 red" x="121" y="1493" style="font-weight:bold">1.输入端</text>
<rect class="rb" x="179" y="1476" width="534" height="148"/><text class="s20 red" x="481" y="1495">2.Backbone</text>
<rect class="rb" x="716" y="1476" width="632" height="510"/><text class="s22 red" x="1003" y="1501">3.Neck</text>
<rect class="rb" x="1361" y="1474" width="281" height="518"/><text class="s22 red" x="1499" y="1497">4.Prediction</text>
</g>

<!-- ===================== YOLOX ===================== -->
<g id="connectors-yolox">
<path class="L A" d="M119,2369H155"/>
<path class="L A" d="M364,2369H384"/>
<path class="L A" d="M434,2369H454"/>
<path class="L A" d="M504,2369H529"/>
<path class="L A" d="M687,2367H852"/>
<path class="L A" d="M701,2367V2467H484V2508H521"/>
<path class="M A" d="M442,2369V2545H665"/>
<path class="M A" d="M372,2369V2717H667"/>
<path class="L A" d="M631,2508H664"/>
<path class="L A" d="M729,2523H750"/>
<path class="L A" d="M811,2523H850"/>
<path class="L A" d="M831,2523V2620H484V2680H523"/>
<path class="L A" d="M628,2682H668"/>
<path class="L A" d="M731,2699H751"/>
<path class="L A" d="M813,2699H850"/>
<path class="M" d="M904,2369H914"/><path class="M A" d="M914,2369V2329H932"/><path class="M A" d="M914,2369V2407H932"/>
<path class="M A" d="M985,2329H1019"/>
<path class="M A" d="M1138,2329H1163V2357H1196"/>
<path class="M" d="M985,2407H993"/><path class="M A" d="M993,2407V2380H1019"/><path class="M A" d="M993,2407V2436H1058"/>
<path class="M A" d="M1138,2380H1196"/>
<path class="M A" d="M1109,2436H1163V2405H1196"/>
<path class="M A" d="M1257,2380H1280"/>
<path class="M" d="M901,2523H912"/><path class="M A" d="M912,2523V2484H929"/><path class="M A" d="M912,2523V2561H929"/>
<path class="M A" d="M982,2484H1016"/>
<path class="M A" d="M1136,2484H1160V2511H1193"/>
<path class="M" d="M982,2562H992"/><path class="M A" d="M992,2562V2536H1016"/><path class="M A" d="M992,2562V2591H1056"/>
<path class="M A" d="M1136,2536H1193"/>
<path class="M A" d="M1106,2591H1160V2558H1193"/>
<path class="M A" d="M1255,2536H1277"/>
<path class="M" d="M901,2699H912"/><path class="M A" d="M912,2699V2660H929"/><path class="M A" d="M912,2699V2737H929"/>
<path class="M A" d="M982,2660H1016"/>
<path class="M A" d="M1136,2660H1160V2687H1193"/>
<path class="M" d="M982,2739H992"/><path class="M A" d="M992,2739V2711H1016"/><path class="M A" d="M992,2739V2767H1052"/>
<path class="M A" d="M1136,2711H1193"/>
<path class="M A" d="M1104,2767H1159V2733H1193"/>
<path class="M A" d="M1256,2713H1277"/>
<path class="M" d="M1364,2380H1386V2713H1362"/>
<path class="M A" d="M1361,2536H1415"/>
<path class="M A" d="M1477,2537H1500"/>
<path class="M A" d="M1584,2540H1607"/>
</g>
<g id="x-input">
<rect class="sq" x="45" y="2323" width="68" height="73" fill="#00B0F0"/>
<rect class="sq" x="37" y="2333" width="68" height="73" fill="#00B050"/>
<rect class="sq" x="29" y="2341" width="70" height="72" fill="#FF0000"/>
<text class="s16" x="66" y="2437">640*640*3</text>
</g>
<g id="x-cbl-lone"><rect class="b cbl" x="130" y="2453" width="51" height="43"/><text class="w s12" x="155" y="2474">CBL</text></g>
<text class="s22" x="184" y="2569">YOLOX-DarkNet53</text>
<text class="s22" x="184" y="2596">Structure</text>
<g id="x-cbl0"><rect class="b cbl" x="156" y="2347" width="50" height="43"/><text class="w s16" x="181" y="2369">CBL</text></g>
<g id="x-res1"><rect class="b res" x="210" y="2347" width="49" height="43"/><text class="s16" x="234" y="2369">Res1</text></g>
<g id="x-res2"><rect class="b res" x="262" y="2347" width="49" height="43"/><text class="s16" x="286" y="2369">Res2</text></g>
<g id="x-res8a"><rect class="b res" x="315" y="2347" width="49" height="43"/><text class="s16" x="339" y="2369">Res8</text></g>
<g id="x-res8b"><rect class="b res" x="385" y="2347" width="49" height="43"/><text class="s16" x="409" y="2369">Res8</text></g>
<g id="x-res4"><rect class="b res" x="455" y="2347" width="49" height="43"/><text class="s16" x="479" y="2369">Res4</text></g>
<g id="x-cbl2a"><rect class="b stk" x="529" y="2342" width="48" height="42"/><rect class="b cbl" x="533" y="2349" width="48" height="42"/><text class="w s16" x="557" y="2370">CBL</text><text class="s16" x="559" y="2325">CBL*2</text></g>
<g id="x-spp"><rect class="b spp" x="584" y="2343" width="48" height="44"/><text class="w s16" x="608" y="2365">SPP</text></g>
<g id="x-cbl2b"><rect class="b stk" x="635" y="2346" width="48" height="42"/><rect class="b cbl" x="639" y="2353" width="48" height="42"/><text class="w s16" x="663" y="2374">CBL</text><text class="s16" x="669" y="2327">CBL*2</text></g>
<g id="x-cbl-u1"><rect class="b cbl" x="522" y="2485" width="52" height="42"/><text class="w s16" x="548" y="2506">CBL</text></g>
<g id="x-up1"><rect class="b up" x="576" y="2485" width="50" height="42"/><text class="cj15" x="601" y="2506">上采样</text></g>
<g id="x-concat1"><polygon class="cc" points="666,2491 729,2505 729,2540 666,2555"/><text class="s14" x="697" y="2523">Concat</text></g>
<g id="x-cbl5a"><rect class="b stk" x="750" y="2495" width="50" height="40"/><rect class="b stk" x="755" y="2501" width="50" height="40"/><rect class="b cbl" x="761" y="2507" width="50" height="40"/><text class="w s16" x="786" y="2527">CBL</text><text class="s16" x="785" y="2479">CBL*5</text></g>
<g id="x-cbl-u2"><rect class="b cbl" x="524" y="2659" width="50" height="43"/><text class="w s16" x="549" y="2681">CBL</text></g>
<g id="x-up2"><rect class="b up" x="577" y="2659" width="49" height="43"/><text class="cj15" x="601" y="2681">上采样</text></g>
<g id="x-concat2"><polygon class="cc" points="669,2665 731,2678 731,2714 669,2728"/><text class="s14" x="700" y="2697">Concat</text></g>
<g id="x-cbl5b"><rect class="b stk" x="752" y="2672" width="50" height="40"/><rect class="b stk" x="757" y="2677" width="50" height="40"/><rect class="b cbl" x="763" y="2683" width="50" height="40"/><text class="w s16" x="788" y="2703">CBL</text><text class="s16" x="782" y="2657">CBL*5</text></g>

<g id="x-head1-cbl"><rect class="b cbl" x="853" y="2347" width="51" height="43"/><text class="w s16" x="878" y="2369">CBL</text></g>
<g id="x-h1-stk1"><rect class="b stk" x="932" y="2303" width="49" height="41"/><rect class="b cbl" x="936" y="2310" width="49" height="41"/><text class="w s16" x="960" y="2331">CBL</text><text class="s16" x="964" y="2361">CBL*2</text></g>
<g id="x-h1-stk2"><rect class="b stk" x="932" y="2380" width="49" height="41"/><rect class="b cbl" x="936" y="2387" width="49" height="41"/><text class="w s16" x="960" y="2408">CBL</text><text class="s16" x="962" y="2440">CBL*2</text></g>
<g id="x-h1-cs1"><rect class="b conv" x="1020" y="2308" width="50" height="44"/><text class="w s16" x="1045" y="2330">Conv</text><rect class="b sig" x="1072" y="2308" width="66" height="44" style="stroke:#5B9BD5"/><text class="w s15" x="1105" y="2328">Sigmoid</text></g>
<g id="x-h1-cs2"><rect class="b conv" x="1020" y="2358" width="50" height="44"/><text class="w s16" x="1045" y="2380">Conv</text><rect class="b sig" x="1070" y="2358" width="68" height="44"/><text class="w s15" x="1104" y="2378">Sigmoid</text></g>
<g id="x-h1-conv"><rect class="b conv" x="1059" y="2416" width="50" height="42"/><text class="w s16" x="1084" y="2437">Conv</text></g>
<g id="x-h1-concat"><polygon class="cc" points="1198,2349 1257,2362 1257,2398 1198,2412"/><text class="s14" x="1227" y="2379">Concat</text></g>
<g id="x-h1-reshape"><rect class="b rs" x="1281" y="2360" width="83" height="44"/><text class="w s16" x="1322" y="2381">Reshape</text></g>
<text class="s12 tl" x="1199" y="2342">20*20*80</text>
<text class="s12 tl" x="1167" y="2372">20*20*1</text>
<text class="s12 tl" x="1197" y="2427">20*20*4</text>
<text class="s13 org" x="1399" y="2369">400*85</text>

<g id="x-head2-cbl"><rect class="b cbl" x="851" y="2502" width="50" height="43"/><text class="w s16" x="876" y="2524">CBL</text></g>
<g id="x-h2-stk1"><rect class="b stk" x="929" y="2458" width="49" height="41"/><rect class="b cbl" x="933" y="2465" width="49" height="41"/><text class="w s16" x="957" y="2486">CBL</text><text class="s16" x="960" y="2518">CBL*2</text></g>
<g id="x-h2-stk2"><rect class="b stk" x="929" y="2535" width="49" height="41"/><rect class="b cbl" x="933" y="2542" width="49" height="41"/><text class="w s16" x="957" y="2563">CBL</text><text class="s16" x="959" y="2600">CBL*2</text></g>
<g id="x-h2-cs1"><rect class="b conv" x="1017" y="2463" width="50" height="43"/><text class="w s16" x="1042" y="2485">Conv</text><rect class="b sig" x="1067" y="2463" width="69" height="43"/><text class="w s15" x="1101" y="2483">Sigmoid</text></g>
<g id="x-h2-cs2"><rect class="b conv" x="1017" y="2513" width="50" height="44"/><text class="w s16" x="1042" y="2535">Conv</text><rect class="b sig" x="1067" y="2513" width="69" height="44"/><text class="w s15" x="1101" y="2533">Sigmoid</text></g>
<g id="x-h2-conv"><rect class="b conv" x="1057" y="2570" width="49" height="43"/><text class="w s16" x="1081" y="2591">Conv</text></g>
<g id="x-h2-concat"><polygon class="cc" points="1194,2504 1255,2518 1255,2554 1194,2567"/><text class="s14" x="1223" y="2535">Concat</text></g>
<g id="x-h2-reshape"><rect class="b rs" x="1278" y="2514" width="83" height="44"/><text class="w s16" x="1319" y="2535">Reshape</text></g>
<text class="s13 org" x="1354" y="2501">1600*85</text>

<g id="x-head3-cbl"><rect class="b cbl" x="851" y="2678" width="50" height="43"/><text class="w s16" x="876" y="2700">CBL</text></g>
<g id="x-h3-stk1"><rect class="b stk" x="929" y="2633" width="49" height="42"/><rect class="b cbl" x="933" y="2640" width="49" height="42"/><text class="w s16" x="957" y="2661">CBL</text><text class="s16" x="959" y="2695">CBL*2</text></g>
<g id="x-h3-stk2"><rect class="b stk" x="929" y="2711" width="49" height="42"/><rect class="b cbl" x="933" y="2718" width="49" height="42"/><text class="w s16" x="957" y="2739">CBL</text><text class="s16" x="959" y="2777">CBL*2</text></g>
<g id="x-h3-cs1"><rect class="b conv" x="1017" y="2638" width="50" height="44"/><text class="w s16" x="1042" y="2660">Conv</text><rect class="b sig" x="1067" y="2638" width="69" height="44"/><text class="w s15" x="1101" y="2658">Sigmoid</text></g>
<g id="x-h3-cs2"><rect class="b conv" x="1017" y="2688" width="50" height="44"/><text class="w s16" x="1042" y="2710">Conv</text><rect class="b sig" x="1067" y="2688" width="69" height="44"/><text class="w s15" x="1101" y="2708">Sigmoid</text></g>
<g id="x-h3-conv"><rect class="b conv" x="1053" y="2745" width="51" height="42"/><text class="w s16" x="1078" y="2766">Conv</text></g>
<g id="x-h3-concat"><polygon class="cc" points="1194,2679 1256,2693 1256,2729 1194,2742"/><text class="s14" x="1223" y="2711">Concat</text></g>
<g id="x-h3-reshape"><rect class="b rs" x="1278" y="2692" width="84" height="45"/><text class="w s16" x="1320" y="2714">Reshape</text></g>
<text class="s13 org" x="1393" y="2731">6400*85</text>

<g id="x-final-concat"><polygon class="cc" points="1416,2504 1477,2518 1477,2554 1416,2567"/><text class="s14" x="1445" y="2536">Concat</text></g>
<text class="s13 grn" x="1477" y="2501">8400*85</text>
<g id="x-transpose"><rect class="b rs" x="1501" y="2517" width="83" height="46"/><text class="w s15" x="1542" y="2540">Transpose</text></g>
<g id="x-output"><rect x="1609" y="2501" width="137" height="77" fill="url(#gx)"/><text class="s13" x="1676" y="2596">85*8400</text></g>

<g id="x-legend-spp"><rect class="lg" x="8" y="2770" width="524" height="205"/>
<rect class="b spp" x="26" y="2863" width="50" height="42"/><text class="w s16" x="51" y="2884">SPP</text><text class="s18" x="87" y="2886">=</text>
<rect class="b cbl" x="123" y="2861" width="50" height="43"/><text class="w s16" x="148" y="2882">CBL</text>
<rect class="b mp" x="226" y="2784" width="97" height="42"/><text class="s16" x="274" y="2805">Maxpool</text>
<rect class="b mp" x="226" y="2845" width="97" height="42"/><text class="s16" x="274" y="2866">Maxpool</text>
<rect class="b mp" x="226" y="2904" width="97" height="43"/><text class="s16" x="274" y="2925">Maxpool</text>
<polygon class="cc" points="368,2847 426,2860 426,2897 368,2908"/><text class="s12" x="396" y="2878">Concat</text>
<rect class="b cbl" x="446" y="2857" width="50" height="43"/>
<path class="M A" d="M103,2882H122"/>
<path class="S a2" d="M176,2880L225,2805"/><path class="S a2" d="M176,2880L225,2866"/><path class="S a2" d="M176,2880L225,2925"/><path class="S a2" d="M176,2880L220,2960H318L367,2900"/>
<path class="S a2" d="M323,2805L367,2852"/><path class="S a2" d="M323,2866L367,2873"/><path class="S a2" d="M323,2925L367,2893"/>
<path class="M A" d="M426,2877H445"/><path class="M A" d="M496,2878H518"/></g>
<g id="x-legend-cbl"><rect class="lg" x="582" y="2862" width="268" height="102"/>
<rect class="b cbl" x="599" y="2893" width="48" height="42"/><text class="w s12" x="623" y="2914">CBL</text><text class="s18" x="660" y="2914">=</text>
<rect class="b conv" x="674" y="2893" width="53" height="42"/><text class="w s16" x="700" y="2914">Conv</text>
<rect class="b bn" x="730" y="2893" width="50" height="42"/><text class="s16" x="755" y="2914">BN</text>
<rect class="b lr" x="784" y="2891" width="50" height="42"/><text class="s12" x="809" y="2904">Leaky</text><text class="s12" x="809" y="2921">relu</text></g>
<g id="x-legend-res"><rect class="lg" x="870" y="2862" width="334" height="102"/>
<rect class="b ru" x="884" y="2877" width="50" height="45"/><text class="w s15" x="909" y="2890">Res</text><text class="w s15" x="909" y="2910">unit</text><text class="s18" x="946" y="2900">=</text>
<rect class="b cbl" x="979" y="2879" width="50" height="44"/><text class="w s16" x="1004" y="2901">CBL</text>
<rect class="b cbl" x="1035" y="2879" width="49" height="44"/><text class="w s16" x="1059" y="2901">CBL</text>
<ellipse class="add" cx="1145" cy="2902" rx="33" ry="21"/><text class="s14" x="1145" y="2902">add</text>
<path class="L A" d="M957,2901H978"/><path class="L A" d="M1084,2901H1110"/><path class="L A" d="M1178,2902H1201"/><path class="L A" d="M967,2901V2952H1140V2924"/></g>
<g id="x-legend-resx"><rect class="lg" x="1237" y="2862" width="277" height="102"/>
<rect class="b res" x="1251" y="2882" width="50" height="42"/><text class="s16" x="1276" y="2903">ResX</text><text class="s18" x="1313" y="2902">=</text>
<rect class="b cbl" x="1334" y="2881" width="51" height="42"/><text class="w s16" x="1359" y="2902">CBL</text>
<rect class="b ru" x="1416" y="2873" width="48" height="40"/><rect class="b ru" x="1422" y="2878" width="48" height="40"/><rect class="b ru" x="1430" y="2883" width="48" height="40"/><text class="w s15" x="1454" y="2893">Res</text><text class="w s15" x="1454" y="2912">unit</text>
<path class="L A" d="M1385,2902H1414"/><path class="L A" d="M1478,2902H1502"/>
<text class="s13" x="1449" y="2944">X个残差组件</text></g>
</svg>
